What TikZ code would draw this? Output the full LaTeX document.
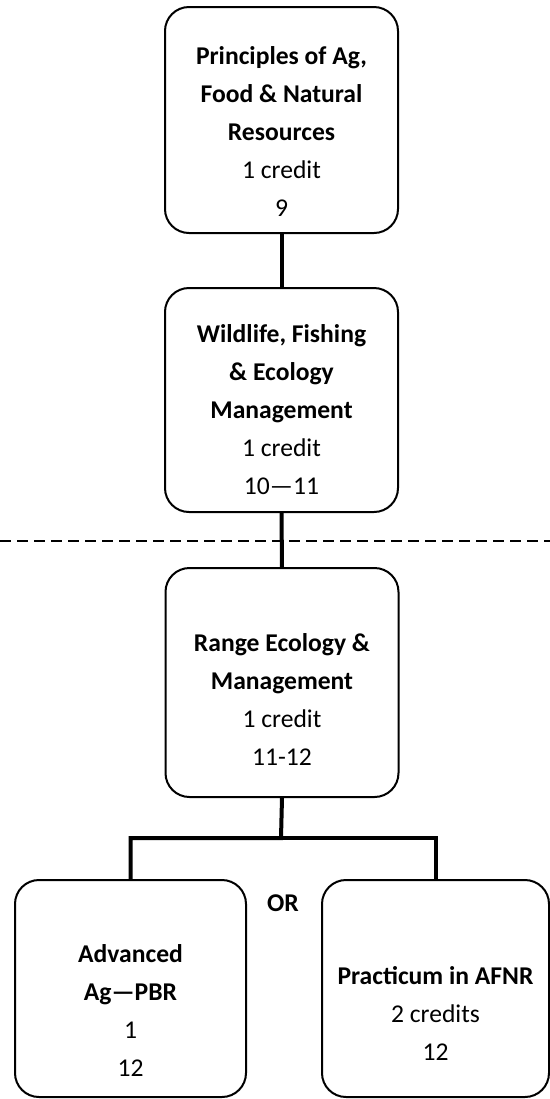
\documentclass[tikz,border=0pt]{standalone}
\usepackage{fontspec}
\setmainfont{Carlito}
\tikzset{
    course/.style = {draw, line width=1pt, rounded corners=12pt},
    coursetext/.style = {align=center, inner sep=0pt, font=\fontsize{12.8}{19}\selectfont},
    link/.style = {line width=2pt}
}

\begin{document}
\begin{tikzpicture}[x=0.5pt,y=-0.5pt]
\useasboundingbox (0,0) rectangle (550,1099);

\node [course, minimum width=116.5pt, minimum height=113pt] (agfood) at (281.5,120) {};
\node [coursetext] (agfoodtxt) at (281.5,132) {\textbf{Principles of Ag,}\\ \textbf{Food \& Natural}\\ \textbf{Resources}\\ 1 credit\\ 9};

\node [course, minimum width=116.5pt, minimum height=112pt] (wildlife) at (281.5,400) {};
\node [coursetext] (wildlifetxt) at (281.5,410) {\textbf{Wildlife, Fishing}\\ \textbf{\& Ecology}\\ \textbf{Management}\\ 1 credit\\ 10—11};

\node [course, minimum width=116.5pt, minimum height=114.5pt] (range) at (282,682.5) {};
\node [coursetext] (rangetxt) at (282,700) {\textbf{Range Ecology \&}\\ \textbf{Management}\\ 1 credit\\ 11-12};

\node [course, minimum width=115.5pt, minimum height=108.5pt] (advag) at (130.5,988.5) {};
\node [coursetext] (advagtxt) at (130.5,1011) {\textbf{Advanced}\\ \textbf{Ag—PBR}\\ 1\\ 12};

\node [course, minimum width=113.5pt, minimum height=108.5pt] (practicum) at (435.5,988.5) {};
\node [coursetext] (practicumtxt) at (435.5,1013) {\textbf{Practicum in AFNR}\\ 2 credits\\ 12};

\node [coursetext] (ortxt) at (283,903) {\textbf{OR}};

\coordinate (dashl) at (0,541);
\coordinate (dashr) at (550,541);
\draw [line width=1.1pt, dash pattern=on 5.3pt off 3.2pt] (dashl) -- (dashr);

\coordinate (split) at (281,838);
\draw [link] (agfood.south) -- (wildlife.north);
\draw [link] (wildlife.south) -- (range.north);
\draw [link] (range.south) -- (split) -| (advag.north);
\draw [link] (split) -| (practicum.north);
\end{tikzpicture}
\end{document}
